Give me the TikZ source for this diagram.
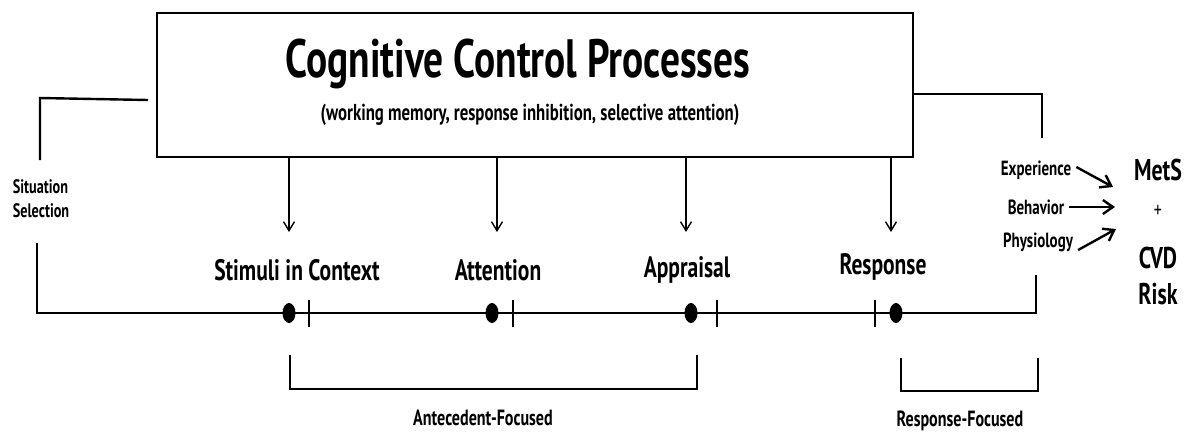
\documentclass[tikz,border=0pt]{standalone}
\usepackage{fontspec}
\setmainfont[FakeStretch=0.73]{PT Sans}
\usetikzlibrary{arrows.meta,shapes.geometric}
\begin{document}
\begin{tikzpicture}[x=1pt,y=-1pt,
  thickline/.style={line width=2.4pt},
  downarrow/.style={line width=1.4pt,-{Straight Barb[length=9pt,width=11pt,line width=1.4pt]}},
  effarrow/.style={line width=2.4pt,-{Straight Barb[length=10pt,width=14pt,line width=2.4pt]}},
  lbl/.style={font=\bfseries\fontsize{29.5}{32}\selectfont,inner sep=0pt},
  small/.style={font=\bfseries\fontsize{20.5}{22}\selectfont,inner sep=0pt},
  brlbl/.style={font=\bfseries\fontsize{22}{24}\selectfont,inner sep=0pt},
  big/.style={font=\bfseries\fontsize{30}{36}\selectfont,inner sep=0pt},
  dot/.style={fill=black,ellipse,inner sep=0pt,minimum width=13pt,minimum height=20pt},
]
\useasboundingbox (0,0) rectangle (1194,437);
% main box
\node[draw,line width=2.7pt,minimum width=756pt,minimum height=144pt,inner sep=0pt] (ccp) at (535,85) {};
\node[inner sep=0pt,font=\bfseries\fontsize{54}{56}\selectfont] (title) at (518,64) {Cognitive Control Processes};
\node[inner sep=0pt,font=\bfseries\fontsize{23}{25}\selectfont] (sub) at (530,115) {(working memory, response inhibition, selective attention)};
% left bracket
\coordinate (lb1) at (148,100);
\coordinate (lb2) at (40,98);
\coordinate (lb3) at (40,160);
\draw[thickline] (lb1) -- (lb2) -- (lb3);
\node[inner sep=0pt,align=left,font=\bfseries\fontsize{19.5}{24}\selectfont] (sit) at (41,199) {Situation\\Selection};
% right bracket
\coordinate (rb1) at (913,94);
\coordinate (rb2) at (1042,94);
\coordinate (rb3) at (1042,138);
\draw[thickline] (rb1) -- (rb2) -- (rb3);
% timeline
\coordinate (t0) at (37,243);
\coordinate (tl) at (37,313);
\coordinate (tr) at (1036,313);
\coordinate (t1) at (1036,275);
\draw[thickline] (t0) -- (tl) -- (tr) -- (t1);
% dots
\node[dot] (d1) at (289,313) {};
\node[dot] (d2) at (492,313) {};
\node[dot] (d3) at (691,313) {};
\node[dot] (d4) at (896,313) {};
% ticks
\foreach \x/\n in {309/k1,513/k2,717/k3,875/k4}{
  \coordinate (\n a) at (\x,300);
  \coordinate (\n b) at (\x,327);
  \draw[line width=1.4pt] (\n a) -- (\n b);
}
% stage labels
\node[lbl] (stim) at (297,270) {Stimuli in Context};
\node[lbl] (att) at (498,270) {Attention};
\node[lbl] (app) at (687,270) {Appraisal};
\node[lbl] (resp) at (883,267) {Response};
% arrows from box
\coordinate (a1) at (289,232);
\coordinate (a2) at (497,232);
\coordinate (a3) at (686,232);
\coordinate (a4) at (891,232);
\foreach \n in {a1,a2,a3,a4}{\draw[downarrow] (ccp.south -| \n) -- (\n);}
% lower brackets
\coordinate (ab1) at (290,355);
\coordinate (ab2) at (290,389);
\coordinate (ab3) at (697,389);
\coordinate (ab4) at (697,355);
\draw[thickline] (ab1) -- (ab2) -- (ab3) -- (ab4);
\node[brlbl] (ante) at (483,418) {Antecedent-Focused};
\coordinate (rb4) at (901,358);
\coordinate (rb5) at (901,391);
\coordinate (rb6) at (1038,391);
\coordinate (rb7) at (1038,358);
\draw[thickline] (rb4) -- (rb5) -- (rb6) -- (rb7);
\node[brlbl] (respf) at (960,421) {Response-Focused};
% outcomes
\node[small] (exp) at (1036,170) {Experience};
\node[small] (beh) at (1036,207) {Behavior};
\node[small] (phy) at (1038,242) {Physiology};
\node[big] (mets) at (1158,170) {MetS};
\node[inner sep=0pt,font=\fontsize{22}{24}\selectfont] (plus) at (1158,211) {+};
\node[big,align=center] (cvd) at (1158,276) {CVD\\Risk};
\coordinate (e1) at (1113,187);
\coordinate (e2) at (1115,207);
\coordinate (e3) at (1116,229);
\draw[effarrow] ([shift={(5,-3)}]exp.east) -- (e1);
\draw[effarrow] ([shift={(5,0)}]beh.east) -- (e2);
\draw[effarrow] ([shift={(5,8)}]phy.east) -- (e3);
\end{tikzpicture}
\end{document}
